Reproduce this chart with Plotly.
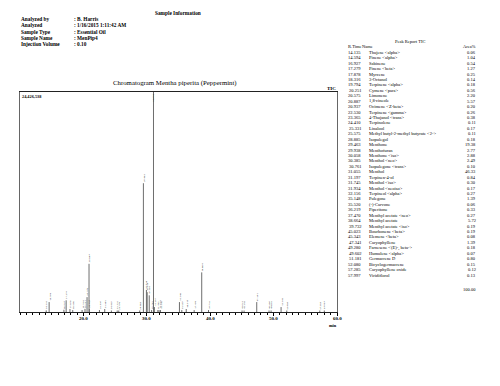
import plotly.graph_objects as go

# ---- data ----
rt = [14.135, 14.594, 16.927, 17.279, 17.878, 18.316, 19.794, 20.251, 20.575, 20.887,
      20.937, 22.530, 23.365, 24.410, 25.331, 25.575, 28.885, 29.463, 29.938, 30.058,
      30.385, 30.761, 31.055, 31.197, 31.745, 31.934, 32.156, 35.148, 35.520, 36.219,
      37.470, 38.664, 39.732, 45.023, 45.343, 47.341, 49.280, 49.602, 51.181, 52.080,
      57.285, 57.997]
names = ["Thujene <alpha>", "Pinene <alpha>", "Sabinene", "Pinene <beta>", "Myrcene",
         "3-Octanol", "Terpinene <alpha>", "Cymene <para>", "Limonene", "1,8-cineole",
         "Ocimene <Z-beta>", "Terpinene <gamma>", "4-Thujanol <trans>", "Terpinolene",
         "Linalool", "Methyl butyl-2-methyl butyrate <2->", "Isopulegol", "Menthone",
         "Menthofuran", "Menthone <iso>", "Menthol <neo>", "Isopulegone <trans>", "Menthol",
         "Terpinen-4-ol", "Menthol <iso>", "Menthol <neoiso>", "Terpineol <alpha>",
         "Pulegone", "(-)-Carvone", "Piperitone", "Menthyl acetate <neo>", "Menthyl acetate",
         "Menthyl acetate <iso>", "Bourbonene <beta>", "Elemene <beta>", "Caryophyllene",
         "Farnesene <(E)-, beta->", "Humulene <alpha>", "Germacrene D", "Bicyclogermacrene",
         "Caryophyllene oxide", "Viridiflorol"]
area_pct = [0.06, 1.04, 0.54, 1.27, 0.25, 0.14, 0.18, 0.56, 2.20, 5.57,
            0.20, 0.26, 0.38, 0.11, 0.17, 0.11, 0.18, 19.38, 2.77, 2.88,
            2.49, 0.10, 46.33, 0.84, 0.30, 0.17, 0.27, 1.39, 0.06, 0.33,
            0.27, 5.72, 0.19, 0.19, 0.08, 1.39, 0.18, 0.07, 0.80, 0.15,
            0.12, 0.13]
# peak heights (intensity counts)
height = [180000, 1100000, 250000, 1300000, 330000, 220000, 220000, 350000, 1650000, 5350000,
          350000, 220000, 330000, 170000, 170000, 170000, 170000, 14300000, 2450000, 2200000,
          1850000, 220000, 24426538, 550000, 220000, 220000, 220000, 1100000, 220000, 330000,
          220000, 4400000, 220000, 170000, 170000, 1100000, 170000, 170000, 550000, 170000,
          170000, 170000]
y_max = 24426538
x_ticks = [20.0, 30.0, 40.0, 50.0, 60.0]
info_labels = ["Analyzed by", "Analyzed", "Sample Type", "Sample Name", "Injection Volume"]
info_values = [": B. Harris", ": 1/16/2015 1:11:42 AM", ": Essential Oil", ": MenPip4", ": 0.10"]
total_area = "100.00"

W, H = 500, 386
def px(x):
    return x / W
def py(y):
    return 1 - y / H

# stems
sx, sy = [], []
for r, h in zip(rt, height):
    sx += [r, r, None]
    sy += [0, h, None]

fig = go.Figure()
fig.add_trace(go.Scatter(x=sx, y=sy, mode="lines", line=dict(color="#6e6e6e", width=1),
                         hoverinfo="skip", showlegend=False, cliponaxis=True))

serif = "Liberation Serif"
ann = []
# peak labels
for r, h in zip(rt, height):
    top = h >= 0.95 * y_max
    ann.append(dict(x=r, y=y_max if top else h, xref="x", yref="y", text=f"{r:.3f}",
                    showarrow=False, textangle=-90, xanchor="center",
                    yanchor="top" if top else "bottom", borderpad=0,
                    font=dict(family=serif, size=2.9, color="#111")))

# x tick labels (bold), placed via the x scale
for v in x_ticks:
    ann.append(dict(x=v, y=0, xref="x", yref="y", text=f"<b>{v:.1f}</b>", showarrow=False,
                    xanchor="center", yanchor="top", yshift=-2.5, borderpad=0,
                    font=dict(family=serif, size=5, color="black")))

# header
hf = dict(family=serif, size=5.3, color="black")
ann.append(dict(x=px(178), y=py(13), xref="paper", yref="paper", text="<b>Sample Information</b>",
                showarrow=False, xanchor="center", yanchor="middle", font=hf))
for i, (lab, val) in enumerate(zip(info_labels, info_values)):
    yy = 19 + i * 6.3
    ann.append(dict(x=px(20), y=py(yy), xref="paper", yref="paper", text=f"<b>{lab}</b>",
                    showarrow=False, xanchor="left", yanchor="middle", borderpad=0, font=hf))
    ann.append(dict(x=px(73), y=py(yy), xref="paper", yref="paper", text=f"<b>{val}</b>",
                    showarrow=False, xanchor="left", yanchor="middle", borderpad=0, font=hf))

# chart title and labels
ann.append(dict(x=px(175), y=py(83), xref="paper", yref="paper",
                text="Chromatogram Mentha piperita (Peppermint)", showarrow=False,
                xanchor="center", yanchor="middle", font=dict(family=serif, size=6.8, color="black")))
ann.append(dict(x=px(21), y=py(96.5), xref="paper", yref="paper", text="<b>24,426,538</b>",
                showarrow=False, xanchor="left", yanchor="middle", borderpad=0,
                font=dict(family=serif, size=4.3, color="black")))
ann.append(dict(x=px(337), y=py(88.5), xref="paper", yref="paper", text="<b>TIC</b>",
                showarrow=False, xanchor="right", yanchor="middle", borderpad=0,
                font=dict(family=serif, size=5, color="black")))
ann.append(dict(x=px(333), y=py(325), xref="paper", yref="paper", text="<b>min</b>",
                showarrow=False, xanchor="center", yanchor="middle", borderpad=0,
                font=dict(family=serif, size=4.3, color="black")))

# peak report table
tf = dict(family=serif, size=4.5, color="black")
ann.append(dict(x=px(410), y=py(42), xref="paper", yref="paper", text="Peak Report TIC",
                showarrow=False, xanchor="center", yanchor="middle", font=tf))
ann.append(dict(x=px(347), y=py(47), xref="paper", yref="paper", text="R.Time",
                showarrow=False, xanchor="left", yanchor="middle", borderpad=0, font=tf))
ann.append(dict(x=px(361), y=py(47), xref="paper", yref="paper", text="Name",
                showarrow=False, xanchor="left", yanchor="middle", borderpad=0, font=tf))
ann.append(dict(x=px(477), y=py(47), xref="paper", yref="paper", text="Area%",
                showarrow=False, xanchor="right", yanchor="middle", borderpad=0, font=tf))
step = (275.0 - 52.3) / (len(rt) - 1)
for i, (r, n, a) in enumerate(zip(rt, names, area_pct)):
    yy = 52.3 + i * step
    ann.append(dict(x=px(362), y=py(yy), xref="paper", yref="paper", text=f"{r:.3f}",
                    showarrow=False, xanchor="right", yanchor="middle", borderpad=0, font=tf))
    ann.append(dict(x=px(367.5), y=py(yy), xref="paper", yref="paper",
                    text=n.replace("<", "&lt;").replace(">", "&gt;"),
                    showarrow=False, xanchor="left", yanchor="middle", borderpad=0, font=tf))
    ann.append(dict(x=px(477), y=py(yy), xref="paper", yref="paper", text=f"{a:.2f}",
                    showarrow=False, xanchor="right", yanchor="middle", borderpad=0, font=tf))
ann.append(dict(x=px(477), y=py(289), xref="paper", yref="paper", text=total_area,
                showarrow=False, xanchor="right", yanchor="middle", borderpad=0, font=tf))

fig.update_layout(
    width=W, height=H, margin=dict(l=0, r=0, t=0, b=0),
    paper_bgcolor="white", plot_bgcolor="white", showlegend=False,
    annotations=ann,
    xaxis=dict(domain=[px(20), px(337)], range=[10, 60], showgrid=False, zeroline=False,
               showline=True, linecolor="#222", linewidth=1, mirror=True,
               ticks="outside", ticklen=2.5, tickwidth=1, tickcolor="black",
               tickvals=x_ticks, showticklabels=False,
               minor=dict(dtick=1, ticks="outside", ticklen=1.5, tickcolor="black", showgrid=False)),
    yaxis=dict(domain=[py(312), py(92)], range=[0, y_max], showgrid=False, zeroline=False,
               showline=True, linecolor="#666", linewidth=1, mirror=True,
               showticklabels=False, ticks=""),
)
fig.write_html("out.html", config={"displayModeBar": False},
               post_script="document.body.style.margin='0';document.body.style.padding='0';")
